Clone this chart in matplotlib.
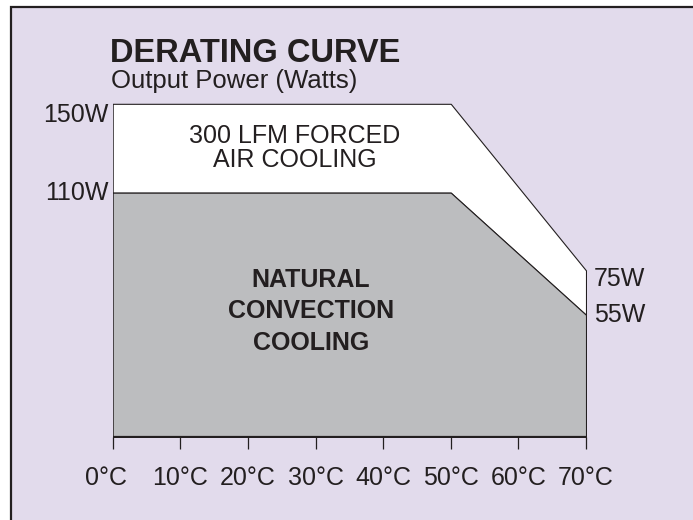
import matplotlib
matplotlib.use("Agg")
import matplotlib.pyplot as plt
from matplotlib.patches import Rectangle
import matplotlib.transforms as mtransforms

# ---- data ----
temps = [0, 50, 70]
forced_air = [150, 150, 75]
natural_conv = [110, 110, 55]
x_ticks = [0, 10, 20, 30, 40, 50, 60, 70]
x_tick_labels = ["0°C", "10°C", "20°C", "30°C", "40°C", "50°C", "60°C", "70°C"]
left_levels = [150, 110]
left_labels = ["150W", "110W"]
right_levels = [75, 55]
right_labels = ["75W", "55W"]

TXT = "#231f20"
LAV = "#e2dbec"
GRAY = "#bcbdbf"
FONT = "Liberation Sans"
plt.rcParams["font.family"] = [FONT, "DejaVu Sans"]

W, H = 693, 520
fig = plt.figure(figsize=(W / 100, H / 100), dpi=100)
fig.patch.set_facecolor("white")

# lavender panel with dark border (left/top visible)
fig.patches.append(Rectangle((11 / W, -0.05), 1.5, (H - 7) / H + 0.05,
                             transform=fig.transFigure, facecolor=LAV,
                             edgecolor=TXT, linewidth=1.6, zorder=-10))

ax = fig.add_axes([112.7 / W, (H - 437) / H, 473.3 / W, 355.4 / H])
ax.set_zorder(1)
ax.set_facecolor("none")
ax.set_xlim(0, 70)
ax.set_ylim(0, 160)
for s in ax.spines.values():
    s.set_visible(False)

ax.fill_between(temps, natural_conv, forced_air, facecolor="white",
                edgecolor=TXT, linewidth=0.8, zorder=2)
ax.fill_between(temps, 0, natural_conv, facecolor=GRAY,
                edgecolor=TXT, linewidth=0.8, zorder=2)
ax.plot([temps[0], temps[-1]], [0, 0], color=TXT, lw=1.6, zorder=3,
        solid_capstyle="butt")

ax.set_xticks(x_ticks)
ax.set_xticklabels(x_tick_labels, fontsize=18, color=TXT)
ax.tick_params(axis="x", direction="out", length=8.6, width=0.9,
               color=TXT, pad=12)
ax.set_yticks([])
# shift the 0°C label slightly left as in the reference
lab0 = ax.get_xticklabels()[0]
lab0.set_transform(lab0.get_transform() +
                   mtransforms.ScaledTranslation(-7 / 100, 0, fig.dpi_scale_trans))

# left/right level labels
offs_left = [-11, 0]
for v, t, dy in zip(left_levels, left_labels, offs_left):
    tr = ax.transData + mtransforms.ScaledTranslation(-4 / 100, dy / 100, fig.dpi_scale_trans)
    ax.text(0, v, t, ha="right", va="center", fontsize=18, color=TXT,
            transform=tr)
offs_right = [-9, 0]
for v, t, dy in zip(right_levels, right_labels, offs_right):
    tr = ax.transData + mtransforms.ScaledTranslation(8 / 100, dy / 100, fig.dpi_scale_trans)
    ax.text(70, v, t, ha="left", va="center", fontsize=18, color=TXT,
            transform=tr)

# region labels
ax.text(26.9, 130.0, "300 LFM FORCED\nAIR COOLING", ha="center", va="center",
        multialignment="center", fontsize=18, color=TXT, linespacing=1.0,
        zorder=4)
ax.text(29.3, 56.5, "NATURAL\nCONVECTION\nCOOLING", ha="center", va="center",
        multialignment="center", fontsize=18, fontweight="bold", color=TXT,
        linespacing=1.4, zorder=4)

# titles
fig.text(110 / W, 1 - 62 / H, "DERATING CURVE", fontsize=23.5, fontweight="bold",
         color=TXT, ha="left", va="baseline")
fig.text(111 / W, 1 - 88 / H, "Output Power (Watts)", fontsize=18.5,
         color=TXT, ha="left", va="baseline")

fig.savefig("out.png", dpi=100, facecolor=fig.get_facecolor())
